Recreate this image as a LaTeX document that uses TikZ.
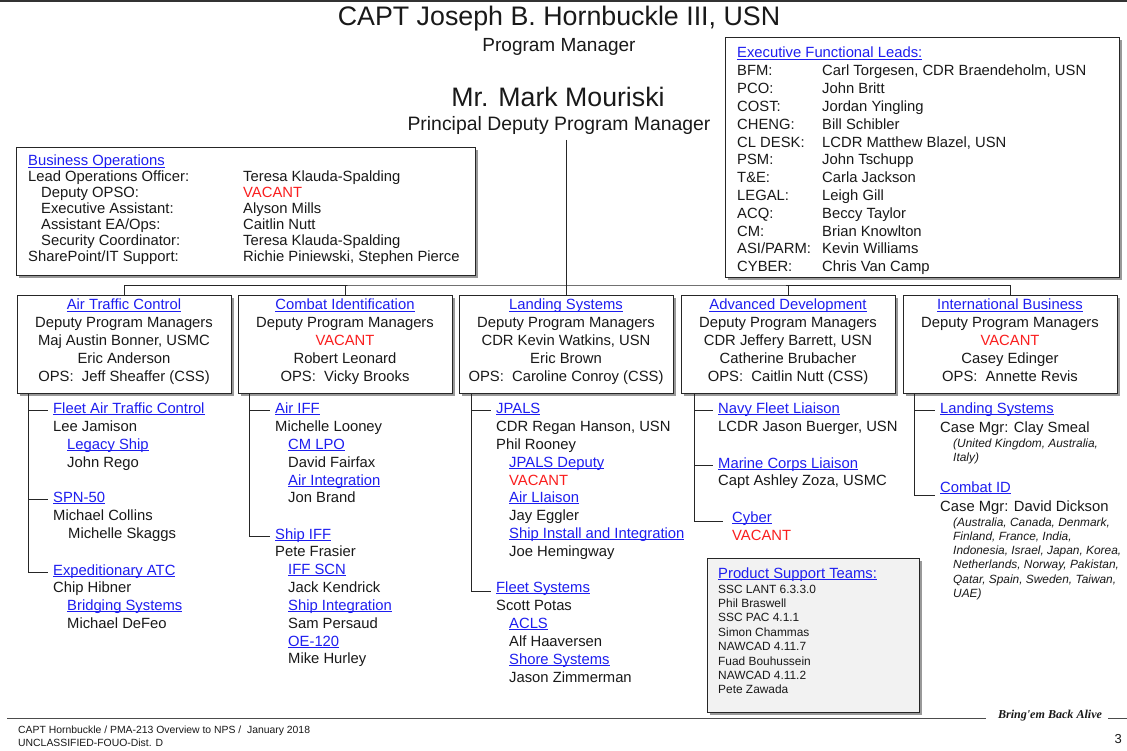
\documentclass[tikz,border=0pt]{standalone}
\usepackage{fontspec}
\usepackage{graphicx}
\setmainfont{Liberation Sans}
\newfontfamily\mottofont{Liberation Serif}
\usetikzlibrary{shadows}
\definecolor{linkblue}{RGB}{30,30,240}
\definecolor{vacred}{RGB}{250,30,30}
\definecolor{inkcol}{RGB}{25,25,25}
\definecolor{panelgray}{RGB}{242,242,242}
\newsavebox\lkbox
% underlined blue heading
\newcommand{\lk}[1]{{\color{linkblue}\sbox\lkbox{#1}\rlap{\rule[-2.2pt]{\wd\lkbox}{0.9pt}}\usebox\lkbox}}
\newcommand{\vac}{\textcolor{vacred}{VACANT}}
\newcommand{\fs}[2]{\fontsize{#1}{#2}\selectfont}
\begin{document}
\begin{tikzpicture}[x=1pt,y=-1pt,
  every node/.style={inner sep=0pt, text=inkcol},
  ln/.style={anchor=base west, font=\fs{14.8}{18}},
  sm/.style={anchor=base west, font=\fs{11.9}{14.4}},
  panel/.style={draw=black!85, line width=0.9pt, fill=white,
    drop shadow={shadow xshift=3pt, shadow yshift=-3pt, fill=black!40, opacity=1}},
  divbox/.style={panel, minimum width=214, minimum height=98},
  divtext/.style={anchor=north, align=center, font=\fs{14.8}{18}},
  wire/.style={draw=black!85, line width=0.8pt},
]
\fill[white] (0,0) rectangle (1127,751);
\useasboundingbox (0,0) rectangle (1127,751);
\draw[black!80, line width=1.5pt] (0,1) -- (1127,1);

% program office heads
\node[font=\fs{26.8}{30}] (pm) at (559,19) {CAPT Joseph B. Hornbuckle III, USN};
\node[font=\fs{19}{22}] (pmt) at (559,47) {Program Manager};
\node[font=\fs{26.7}{30}] (dpm) at (558,97) {Mr. Mark Mouriski};
\node[font=\fs{19.4}{22}] (dpmt) at (559,125) {Principal Deputy Program Manager};

% executive functional leads
\node[panel, anchor=north west, minimum width=394, minimum height=240] (exec) at (725,37) {};
\node[ln] (exhead) at (737,58) {\lk{Executive Functional Leads:}};
\foreach \k/\n [count=\i] in {BFM:/{Carl Torgesen, CDR Braendeholm, USN}, PCO:/John Britt,
  COST:/Jordan Yingling, CHENG:/Bill Schibler, CL DESK:/{LCDR Matthew Blazel, USN},
  PSM:/John Tschupp, T\&E:/Carla Jackson, LEGAL:/Leigh Gill, ACQ:/Beccy Taylor,
  CM:/Brian Knowlton, {ASI/PARM:}/Kevin Williams, CYBER:/Chris Van Camp}
  \node[ln] (ex\i) at (737,{76+17.8*(\i-1)}) {\makebox[85pt][l]{\k}\n};

% business operations
\node[panel, anchor=north west, minimum width=459, minimum height=128] (biz) at (16,147) {};
\node[ln] (bizhead) at (28,166) {\lk{Business Operations}};
\foreach \x/\k/\n [count=\i] in {28/Lead Operations Officer:/Teresa Klauda-Spalding,
  41/Deputy OPSO:/\vac, 41/Executive Assistant:/Alyson Mills,
  41/{Assistant EA/Ops:}/Caitlin Nutt, 41/Security Coordinator:/Teresa Klauda-Spalding,
  28/{SharePoint/IT Support:}/{Richie Piniewski, Stephen Pierce}}
{
  \node[ln] (bk\i) at (\x,{182+16*(\i-1)}) {\k};
  \node[ln] (bv\i) at (243,{182+16*(\i-1)}) {\n};
}

% divisions
\node[divbox] (atc) at (124,344) {};
\node[divbox] (cid) at (345,344) {};
\node[divbox] (lsys) at (566,344) {};
\node[divbox] (adv) at (788,344) {};
\node[divbox] (intl) at (1010,344) {};
\node[divtext] (atc-t) at ([yshift=-4.2pt]atc.north) {\lk{Air Traffic Control}\\Deputy Program Managers\\Maj Austin Bonner, USMC\\Eric Anderson\\OPS:\ \ Jeff Sheaffer (CSS)};
\node[divtext] (cid-t) at ([yshift=-4.2pt]cid.north) {\lk{Combat Identification}\\Deputy Program Managers\\\vac\\Robert Leonard\\OPS:\ \ Vicky Brooks};
\node[divtext] (lsys-t) at ([yshift=-4.2pt]lsys.north) {\lk{Landing Systems}\\Deputy Program Managers\\CDR Kevin Watkins, USN\\Eric Brown\\OPS:\ \ Caroline Conroy (CSS)};
\node[divtext] (adv-t) at ([yshift=-4.2pt]adv.north) {\lk{Advanced Development}\\Deputy Program Managers\\CDR Jeffery Barrett, USN\\Catherine Brubacher\\OPS:\ \ Caitlin Nutt (CSS)};
\node[divtext] (intl-t) at ([yshift=-4.2pt]intl.north) {\lk{International Business}\\Deputy Program Managers\\\vac\\Casey Edinger\\OPS:\ \ Annette Revis};

% reporting lines
\coordinate (trunktop) at (566,140);
\coordinate (bar) at (566,285);
\draw[wire] (trunktop) -- (lsys.north);
\draw[wire] (atc.north) |- (bar) -| (intl.north);
\draw[wire] (cid.north) -- (cid.north |- bar);
\draw[wire] (adv.north) -- (adv.north |- bar);

% air traffic control branches
\foreach \x/\y/\t [count=\i] in {53/413/\lk{Fleet Air Traffic Control}, 53/431/Lee Jamison,
  67/449/\lk{Legacy Ship}, 67/467/John Rego, 53/502/\lk{SPN-50}, 53/520/Michael Collins,
  68/538/Michelle Skaggs, 53/575/\lk{Expeditionary ATC}, 53/592/Chip Hibner,
  67/610/\lk{Bridging Systems}, 67/628/Michael DeFeo}
  \node[ln] (c1-\i) at (\x,\y) {\t};

% combat identification branches
\foreach \x/\y/\t [count=\i] in {275/413/\lk{Air IFF}, 275/431/Michelle Looney,
  288/449/\lk{CM LPO}, 288/467/David Fairfax, 288/485/\lk{Air Integration}, 288/502/Jon Brand,
  275/539/\lk{Ship IFF}, 275/556/Pete Frasier, 288/574/\lk{IFF SCN}, 288/592/Jack Kendrick,
  288/610/\lk{Ship Integration}, 288/628/Sam Persaud, 288/646/\lk{OE-120}, 288/663/Mike Hurley}
  \node[ln] (c2-\i) at (\x,\y) {\t};

% landing systems branches
\foreach \x/\y/\t [count=\i] in {496/413/\lk{JPALS}, 496/431/{CDR Regan Hanson, USN},
  496/449/Phil Rooney, 509/467/\lk{JPALS Deputy}, 509/485/\vac, 509/502/\lk{Air LIaison},
  509/520/Jay Eggler, 509/538/\lk{Ship Install and Integration}, 509/556/Joe Hemingway,
  496/592/\lk{Fleet Systems}, 496/610/Scott Potas, 509/628/\lk{ACLS}, 509/646/Alf Haaversen,
  509/664/\lk{Shore Systems}, 509/682/Jason Zimmerman}
  \node[ln] (c3-\i) at (\x,\y) {\t};

% advanced development branches
\foreach \x/\y/\t [count=\i] in {718/413/\lk{Navy Fleet Liaison}, 718/431/{LCDR Jason Buerger, USN},
  718/468/\lk{Marine Corps Liaison}, 718/485/{Capt Ashley Zoza, USMC},
  732/522/\lk{Cyber}, 732/540/\vac}
  \node[ln] (c4-\i) at (\x,\y) {\t};

% international business branches
\foreach \x/\y/\t [count=\i] in {940/413/\lk{Landing Systems}, 940/432/Case Mgr: Clay Smeal,
  953/447/{\fs{11.9}{14}\itshape (United Kingdom, Australia,}, 953/461/{\fs{11.9}{14}\itshape Italy)},
  940/492/\lk{Combat ID}, 940/511/Case Mgr: David Dickson,
  953/526/{\fs{11.9}{14}\itshape (Australia, Canada, Denmark,},
  953/540/{\fs{11.9}{14}\itshape Finland, France, India,},
  953/554/{\fs{11.9}{14}\itshape Indonesia, Israel, Japan, Korea,},
  953/568/{\fs{11.9}{14}\itshape Netherlands, Norway, Pakistan,},
  953/583/{\fs{11.9}{14}\itshape Qatar, Spain, Sweden, Taiwan,},
  953/597/{\fs{11.9}{14}\itshape UAE)}}
  \node[ln] (c5-\i) at (\x,\y) {\t};

% branch connectors
\coordinate (sp1) at ([xshift=-96pt]atc.south);
\coordinate (sp2) at ([xshift=-96pt]cid.south);
\coordinate (sp3) at ([xshift=-95pt]lsys.south);
\coordinate (sp4) at ([xshift=-94pt]adv.south);
\coordinate (sp5) at ([xshift=-96pt]intl.south);
\draw[wire] (sp1) |- ([xshift=-5pt]c1-8.mid west);
\draw[wire] (sp1 |- c1-1.mid west) -- ([xshift=-5pt]c1-1.mid west);
\draw[wire] (sp1 |- c1-5.mid west) -- ([xshift=-5pt]c1-5.mid west);
\draw[wire] (sp2) |- ([xshift=-5pt]c2-7.mid west);
\draw[wire] (sp2 |- c2-1.mid west) -- ([xshift=-5pt]c2-1.mid west);
\draw[wire] (sp3) |- ([xshift=-5pt,yshift=-2pt]c3-10.mid west);
\draw[wire] (sp3 |- c3-1.mid west) -- ([xshift=-5pt]c3-1.mid west);
\draw[wire] (sp4) |- ([xshift=-9pt,yshift=-2pt]c4-5.mid west);
\draw[wire] (sp4 |- c4-1.mid west) -- ([xshift=-5pt]c4-1.mid west);
\draw[wire] (sp4 |- c4-3.mid west) -- ([xshift=-5pt]c4-3.mid west);
\draw[wire] (sp5) |- ([xshift=-5pt,yshift=-6pt]c5-5.mid west);
\draw[wire] (sp5 |- c5-1.mid west) -- ([xshift=-5pt]c5-1.mid west);

% product support teams
\node[panel, fill=panelgray, anchor=north west, minimum width=212, minimum height=154] (pst) at (707,558) {};
\node[ln] (psthead) at (718,578) {\lk{Product Support Teams:}};
\foreach \t [count=\i] in {SSC LANT 6.3.3.0, Phil Braswell, SSC PAC 4.1.1, Simon Chammas,
  NAWCAD 4.11.7, Fuad Bouhussein, NAWCAD 4.11.2, Pete Zawada}
  \node[sm] (ps\i) at (718,{593+14.4*(\i-1)}) {\t};

% footer
\coordinate (fl) at (7,718);
\coordinate (fr) at (1127,718);
\node (motto) at (1050,716) {\resizebox{104pt}{!}{\mottofont\bfseries\itshape Bring'em Back Alive}};
\draw[black!70, line width=0.7pt] (fl) -- ([xshift=-12pt]motto.west |- fl);
\draw[black!70, line width=0.7pt] ([xshift=6pt]motto.east |- fr) -- (fr);
\node[anchor=base west, font=\fs{10.4}{13}] (f1) at (18,733) {CAPT Hornbuckle / PMA-213 Overview to NPS /\ \ January 2018};
\node[anchor=base west, font=\fs{10.4}{13}] (f2) at (18,746) {UNCLASSIFIED-FOUO-Dist. D};
\node[anchor=base east, font=\fs{13}{15}] (pg) at (1122,743) {3};
\end{tikzpicture}
\end{document}
